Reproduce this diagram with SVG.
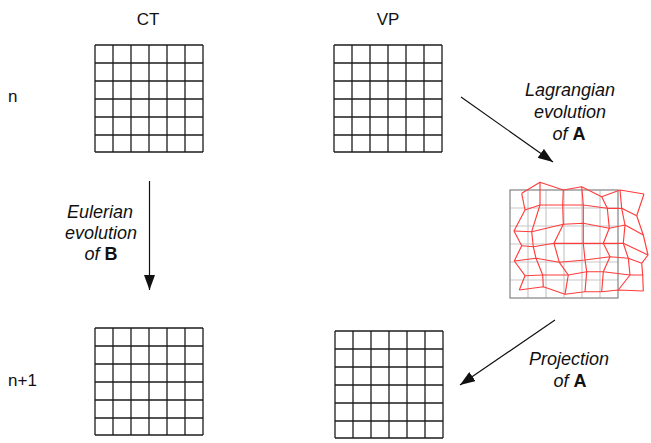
<svg xmlns="http://www.w3.org/2000/svg" width="651" height="443" viewBox="0 0 651 443">
  <style>
    .grid { fill: none; stroke: #1c1c1c; stroke-width: 1.3; }
    .ref-inner { fill: none; stroke: #c8c8c8; stroke-width: 1.2; }
    .ref-border { fill: none; stroke: #8c8c8c; stroke-width: 1.3; }
    .mesh { fill: none; stroke: #ff3d3d; stroke-width: 1.15; stroke-linejoin: round; }
    .head { font-family: "Liberation Sans", Arial, sans-serif; font-size: 17px; fill: #111; text-anchor: middle; }
    .row { font-family: "Liberation Sans", Arial, sans-serif; font-size: 17px; fill: #111; }
    .lbl { font-family: "Liberation Sans", Arial, sans-serif; font-size: 18px; font-style: italic; fill: #111; text-anchor: middle; }
    .lbl .b { font-style: normal; font-weight: bold; }
    .conn { stroke: #111; stroke-width: 1.2; fill: none; marker-end: url(#arrow); }
  </style>
  <defs>
    <marker id="arrow" markerUnits="userSpaceOnUse" markerWidth="15" markerHeight="11" refX="15" refY="5.5" orient="auto">
      <path d="M0,0 L15,5.5 L0,11 z" fill="#111"/>
    </marker>
    <!-- 6x6 cell grid, 108 x 107 -->
    <path id="grid6" class="grid" d="M0,0 H108 M0,18 H108 M0,36 H108 M0,54 H108 M0,72 H108 M0,90 H108 M0,107 H108
      M0,0 V107 M18,0 V107 M36,0 V107 M54,0 V107 M72,0 V107 M90,0 V107 M108,0 V107"/>
  </defs>

  <!-- column and row headers -->
  <text class="head" x="148" y="25">CT</text>
  <text class="head" x="388" y="25">VP</text>
  <text class="row" x="8" y="102">n</text>
  <text class="row" x="8" y="386">n+1</text>

  <g id="ct-n">
    <use href="#grid6" x="95" y="45"/>
  </g>
  <g id="vp-n">
    <use href="#grid6" x="334" y="45"/>
  </g>
  <g id="ct-n1">
    <use href="#grid6" x="95" y="328"/>
  </g>
  <g id="vp-n1">
    <use href="#grid6" x="335" y="331"/>
  </g>

  <!-- advected mesh over the reference grid -->
  <g id="vp-advected">
    <path class="ref-inner" d="M510,208 H618 M510,226 H618 M510,244 H618 M510,262 H618 M510,280 H618
      M528,190 V298 M546,190 V298 M564,190 V298 M582,190 V298 M600,190 V298"/>
    <rect class="ref-border" x="510" y="190" width="108" height="108"/>
    <g class="mesh">
      <polyline points="521.7,193.3 540,182.3 563.3,190 581.7,186.7 601.7,196.7 620,190 644,194"/>
      <polyline points="525,210 540,205 562.7,205 583.3,205 607.3,208.3 621.7,208.3 636.7,215.7"/>
      <polyline points="514,231 531.7,231.7 563.3,224.3 583.3,223.3 609.3,228.3 625,225 643.3,235"/>
      <polyline points="521.7,245.7 533.3,246.7 554,243.3 583.3,243.3 603.3,243.3 623.3,243.3 648,255"/>
      <polyline points="514.3,261 536,258.3 559.3,262.3 585,260 610,256.7 628.3,258.3 641.7,263.3"/>
      <polyline points="525,275.7 542.7,275 568.3,275 586.7,271.7 603.3,271.7 630,275 642.7,275"/>
      <polyline points="519.3,290 543.3,286.7 565,294.3 585,291.7 601.7,291.7 618.3,290 643.3,291"/>
      <polyline points="521.7,193.3 525,210 514,231 521.7,245.7 514.3,261 525,275.7 519.3,290"/>
      <polyline points="540,182.3 540,205 531.7,231.7 533.3,246.7 536,258.3 542.7,275 543.3,286.7"/>
      <polyline points="563.3,190 562.7,205 563.3,224.3 554,243.3 559.3,262.3 568.3,275 565,294.3"/>
      <polyline points="581.7,186.7 583.3,205 583.3,223.3 583.3,243.3 585,260 586.7,271.7 585,291.7"/>
      <polyline points="601.7,196.7 607.3,208.3 609.3,228.3 603.3,243.3 610,256.7 603.3,271.7 601.7,291.7"/>
      <polyline points="620,190 621.7,208.3 625,225 623.3,243.3 628.3,258.3 630,275 618.3,290"/>
      <polyline points="644,194 636.7,215.7 643.3,235 648,255 641.7,263.3 642.7,275 643.3,291"/>
    </g>
  </g>

  <g id="connectors">
    <line class="conn" x1="149.5" y1="181" x2="149.5" y2="290"/>
    <line class="conn" x1="461" y1="97" x2="553" y2="162"/>
    <line class="conn" x1="555" y1="320" x2="460" y2="385"/>
  </g>

  <g id="labels">
    <text class="lbl" x="100" y="218">Eulerian</text>
    <text class="lbl" x="101" y="239">evolution</text>
    <text class="lbl" x="101" y="260">of <tspan class="b">B</tspan></text>

    <text class="lbl" x="570" y="96">Lagrangian</text>
    <text class="lbl" x="570" y="118">evolution</text>
    <text class="lbl" x="569" y="140">of <tspan class="b">A</tspan></text>

    <text class="lbl" x="569" y="365">Projection</text>
    <text class="lbl" x="570" y="387">of <tspan class="b">A</tspan></text>
  </g>
</svg>
